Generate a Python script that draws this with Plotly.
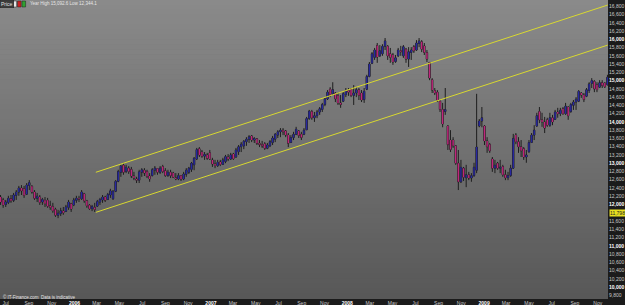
import pandas as pd
import plotly.graph_objects as go

# ---------------- data (weekly bars) ----------------
START_DATE = "2005-06-17"
N_WEEKS = 233
OPEN = [12180,12110,12000,12050,12140,12100,12220,12300,12400,12380,12250,12460,12440,12300,12150,12180,12060,12100,12100,11970,
        11950,11880,11740,11780,11840,11830,11930,12020,11990,12100,12150,12140,12260,12090,11980,11900,11930,11960,12060,12110,
        12180,12120,12230,12140,12320,12560,12780,12950,12800,12880,12850,12690,12620,12590,12780,12830,12800,12690,12700,12830,
        12870,12780,12920,12820,12700,12780,12760,12650,12620,12700,12620,12730,12780,12850,12960,13100,13350,13270,13170,13200,
        13250,13080,12980,12940,13030,12970,13040,13150,13100,13220,13150,13280,13400,13420,13520,13580,13660,13560,13590,13480,
        13450,13470,13360,13420,13500,13580,13680,13760,13800,13780,13680,13500,13620,13700,13780,13700,13700,13810,14080,14250,
        14100,14150,14240,14300,14420,14560,14790,14680,14700,14640,14460,14500,14660,14760,14790,14640,14700,14780,14700,14540,
        14790,15100,15420,15560,15850,15600,15650,15830,15830,15650,15620,15460,15600,15720,15600,15760,15520,15680,15820,15740,
        15900,15940,15840,15680,15440,15020,14760,14720,14500,14300,14250,13900,13560,13560,13420,13000,12550,12880,12650,12720,
        12640,12700,12830,13900,14020,13900,13540,13450,13100,12880,13000,12880,12920,12720,12650,12700,12880,13680,13520,13400,
        13350,13150,13280,13500,13680,13900,14250,14050,14000,14050,13920,14100,14060,14240,14200,14320,14200,14360,14250,14400,
        14480,14500,14700,14650,14620,14760,14930,14980,14900,14840,14950,14940,14900]
HIGH = [12230,12160,12110,12210,12230,12280,12350,12450,12470,12450,12520,12590,12470,12350,12280,12230,12160,12180,12160,12090,
        12040,11920,11870,11920,11940,11990,12110,12040,12160,12210,12210,12350,12280,12110,12010,11990,12040,12110,12160,12230,
        12210,12280,12380,12350,12590,12840,12960,13000,12960,12930,12910,12790,12670,12840,12880,12880,12840,12760,12880,12930,
        12880,12930,12960,12880,12840,12840,12790,12760,12760,12710,12790,12880,12910,13030,13150,13370,13390,13320,13270,13250,
        13320,13130,13080,13080,13080,13130,13200,13220,13250,13250,13370,13440,13510,13560,13630,13680,13680,13630,13610,13560,
        13540,13510,13490,13560,13660,13730,13800,13850,13850,13800,13730,13680,13760,13880,13800,13760,13850,14120,14290,14290,
        14240,14290,14360,14460,14600,14770,14840,14960,14720,14700,14650,14720,14820,14820,14820,14890,14840,14820,14770,14820,
        15140,15450,15690,15790,15910,15860,15880,16030,15860,15790,15670,15620,15790,15840,15860,15790,15810,15810,15860,15980,
        16030,15980,15910,15740,15450,15060,14820,14770,14530,14460,14820,13920,13800,13630,13440,13320,13080,12910,12960,12790,
        12760,13010,14680,14070,14360,13920,13630,13490,13150,13080,13030,13080,12960,12840,12790,12960,13710,13730,13630,13560,
        13390,13320,13560,13730,13920,14220,14360,14220,14120,14100,14220,14170,14290,14340,14340,14360,14460,14380,14460,14530,
        14600,14770,14720,14700,14820,14960,15060,15010,14960,15010,15010,14960,15140]
LOW = [11990,11920,11940,12010,12040,12060,12110,12210,12230,12160,12230,12350,12260,12110,12060,11990,11990,11940,11920,11870,
       11800,11700,11670,11720,11750,11820,11870,11820,11960,12040,12060,12110,12040,11920,11870,11840,11820,11940,11990,12040,
       12060,12110,12160,12110,12300,12540,12670,12720,12760,12740,12640,12590,12520,12520,12670,12690,12640,12550,12680,12720,
       12720,12740,12760,12670,12670,12640,12640,12590,12590,12570,12590,12670,12740,12790,12830,13080,13150,13130,13080,13080,
       13080,12910,12880,12910,12930,12960,13000,13050,13080,13080,13130,13200,13270,13340,13420,13490,13510,13490,13440,13390,
       13370,13320,13340,13390,13440,13510,13610,13630,13680,13630,13390,13490,13560,13680,13610,13560,13680,13800,14050,14050,
       14000,14090,14170,14240,14380,14530,14600,14650,14480,14410,14340,14480,14600,14630,14600,14410,14600,14530,14480,14460,
       14770,15080,15400,15500,15430,15570,15600,15740,15500,15430,15380,15430,15570,15600,15550,15430,15330,15500,15670,15720,
       15810,15690,15620,15450,15010,14700,14650,14480,14240,13870,14170,13320,13270,13370,12960,12350,12520,12570,12420,12590,
       12550,12670,12760,13870,13870,13440,13250,13250,12790,12760,12840,12760,12670,12590,12590,12670,12860,13460,13250,13150,
       13080,13010,13250,13490,13560,13880,13970,13880,13730,13880,13880,13920,14050,14100,14140,14170,14170,14050,14220,14290,
       14290,14480,14580,14480,14600,14700,14820,14720,14720,14820,14820,14820,14880]
CLOSE = [12060,11990,12060,12150,12090,12230,12300,12400,12330,12220,12470,12530,12300,12150,12200,12050,12120,12020,11960,11930,
         11850,11740,11790,11850,11800,11940,12060,11890,12110,12150,12130,12300,12090,11970,11900,11950,11880,12070,12120,12180,
         12100,12240,12330,12320,12560,12800,12930,12780,12900,12800,12690,12640,12590,12790,12840,12760,12680,12620,12840,12880,
         12780,12880,12800,12700,12780,12700,12660,12620,12700,12610,12740,12830,12880,13000,13120,13330,13200,13170,13210,13120,
         13100,12980,12940,13020,12970,13080,13160,13100,13200,13110,13320,13400,13460,13530,13580,13640,13560,13600,13480,13450,
         13420,13360,13440,13520,13610,13700,13760,13800,13760,13680,13480,13620,13700,13820,13670,13620,13800,14080,14260,14100,
         14150,14240,14320,14420,14560,14720,14660,14780,14560,14460,14420,14680,14760,14720,14640,14700,14780,14640,14530,14740,
         15100,15400,15650,15740,15570,15720,15830,15960,15600,15560,15450,15550,15740,15700,15820,15520,15700,15740,15720,15910,
         15960,15760,15680,15520,15060,14770,14700,14530,14300,13950,14300,13450,13330,13420,13000,12550,12900,12660,12720,12640,
         12700,12900,13390,14020,14100,13540,13400,13300,12880,12950,12880,12900,12720,12650,12700,12880,13600,13520,13400,13300,
         13150,13200,13500,13680,13800,14150,14050,14000,13850,13920,14100,14000,14240,14200,14280,14200,14380,14150,14420,14480,
         14550,14740,14650,14540,14780,14920,15000,14800,14780,14950,14880,14850,15080]

# trend channel end points
TREND_DATES = ["2006-02-27", "2009-11-28"]
UPPER_LINE = [12780, 16830]
LOWER_LINE = [11810, 15860]

LAST_PRICE = 11798
LAST_PRICE_LABEL = "11,798"

Y_TICKS = [9800,10000,10200,10400,10600,10800,11000,11200,11400,11600,11800,12000,12200,12400,12600,12800,
           13000,13200,13400,13600,13800,14000,14200,14400,14600,14800,15000,15200,15400,15600,15800,16000,
           16200,16400,16600,16800]
X_TICKS = ["2005-07-01","2005-09-01","2005-11-01","2006-01-01","2006-03-01","2006-05-01","2006-07-01","2006-09-01",
           "2006-11-01","2007-01-01","2007-03-01","2007-05-01","2007-07-01","2007-09-01","2007-11-01","2008-01-01",
           "2008-03-01","2008-05-01","2008-07-01","2008-09-01","2008-11-01","2009-01-01","2009-03-01","2009-05-01",
           "2009-07-01","2009-09-01","2009-11-01"]
X_LABELS = ["Jul","Sep","Nov","2006","Mar","May","Jul","Sep","Nov","2007","Mar","May","Jul","Sep","Nov","2008",
            "Mar","May","Jul","Sep","Nov","2009","Mar","May","Jul","Sep","Nov"]

HEADER_TEXT = "Year High 15,092.6 Low 12,344.1"
FOOTER_TEXT = "© IT-Finance.com  Data is indicative"

# ---------------- styling ----------------
W, H = 625, 305
M_R, M_B = 17, 6
PW, PH = W - M_R, H - M_B
WICK = "#1e1e1e"
UP = "#2828a0"
DOWN = "#c0267c"
DARK = "#1b1b1b"
YELLOW = "#d8d830"

dates = pd.date_range(START_DATE, periods=N_WEEKS, freq="7D")
body_hi = [max(o, c) for o, c in zip(OPEN, CLOSE)]
body_lo = [min(o, c) for o, c in zip(OPEN, CLOSE)]

fig = go.Figure()
fig.add_trace(go.Candlestick(
    x=dates, open=OPEN, high=HIGH, low=LOW, close=CLOSE, whiskerwidth=0,
    increasing=dict(line=dict(color=WICK, width=1), fillcolor=WICK),
    decreasing=dict(line=dict(color=WICK, width=1), fillcolor=WICK),
    hoverinfo="skip", showlegend=False))
fig.add_trace(go.Candlestick(
    x=dates, open=OPEN, high=body_hi, low=body_lo, close=CLOSE, whiskerwidth=0,
    increasing=dict(line=dict(color=UP, width=0), fillcolor=UP),
    decreasing=dict(line=dict(color=DOWN, width=0), fillcolor=DOWN),
    hoverinfo="skip", showlegend=False))
for ys in (UPPER_LINE, LOWER_LINE):
    fig.add_trace(go.Scatter(x=TREND_DATES, y=ys, mode="lines",
                             line=dict(color=YELLOW, width=1), hoverinfo="skip", showlegend=False))

# background gradient
shapes = []
NS = 60
top, bot = (138, 138, 138), (88, 88, 88)
for k in range(NS):
    t = k / (NS - 1)
    col = tuple(round(top[j] + (bot[j] - top[j]) * t) for j in range(3))
    shapes.append(dict(type="rect", xref="paper", yref="paper", x0=0, x1=1,
                       y0=1 - (k + 1) / NS, y1=1 - k / NS + 0.002, line=dict(width=0),
                       fillcolor="rgb(%d,%d,%d)" % col, layer="below"))
# header icons
def px(x):
    return x / PW
def py(y):
    return 1 - y / PH
for x0, c in ((13, "#e8e8e8"), (17.5, "#cc2020"), (22, "#30a030")):
    shapes.append(dict(type="rect", xref="paper", yref="paper", x0=px(x0), x1=px(x0 + 3.6),
                       y0=py(7), y1=py(1), line=dict(color="#222", width=0.5), fillcolor=c))

y_text = []
for v in Y_TICKS:
    s = f"{v:,}"
    if v == 11800:
        s = ""
    elif v % 1000 == 0:
        s = f"<b><span style='color:#ffffff'>{s}</span></b>"
    y_text.append(s)
x_text = [f"<b><span style='color:#ffffff'>{t}</span></b>" if t.isdigit() else t for t in X_LABELS]

fig.update_layout(
    width=W, height=H, margin=dict(l=0, r=M_R, t=0, b=M_B),
    paper_bgcolor=DARK, plot_bgcolor="#737373",
    boxmode="overlay", boxgap=0.45, boxgroupgap=0,
    shapes=shapes,
    font=dict(family="Liberation Sans, Arial, sans-serif", size=5, color="#c8c8c8"),
    xaxis=dict(type="date", range=["2005-06-15 14:00", "2009-11-28 12:00"], rangeslider=dict(visible=False),
               showgrid=False, zeroline=False, tickvals=X_TICKS, ticktext=x_text, ticks="",
               tickfont=dict(size=5, color="#c8c8c8"), fixedrange=True),
    yaxis=dict(side="right", range=[9712, 16951], showgrid=False, zeroline=False,
               tickvals=Y_TICKS, ticktext=y_text, ticks="", tickfont=dict(size=5, color="#c8c8c8")),
    annotations=[
        dict(xref="paper", yref="paper", x=0, y=1, xanchor="left", yanchor="top", text="Price",
             showarrow=False, font=dict(size=5, color="#e0e0e0"), bgcolor="#3c3c3c",
             bordercolor="#222", borderwidth=0.5, borderpad=0.5),
        dict(xref="paper", yref="paper", x=px(28), y=py(4), xanchor="left", yanchor="middle",
             text=HEADER_TEXT, showarrow=False, font=dict(size=4.5, color="#e6e6e6")),
        dict(xref="paper", yref="paper", x=px(1), y=py(297), xanchor="left", yanchor="middle",
             text=FOOTER_TEXT, showarrow=False, font=dict(size=4.5, color="#e6e6e6")),
        dict(xref="paper", yref="y", x=1, y=LAST_PRICE, xanchor="left", yanchor="middle",
             xshift=1, text=LAST_PRICE_LABEL, showarrow=False, font=dict(size=5, color="#202020"),
             bgcolor="#e8e020", borderpad=0),
    ],
)
fig.write_html("out.html")
